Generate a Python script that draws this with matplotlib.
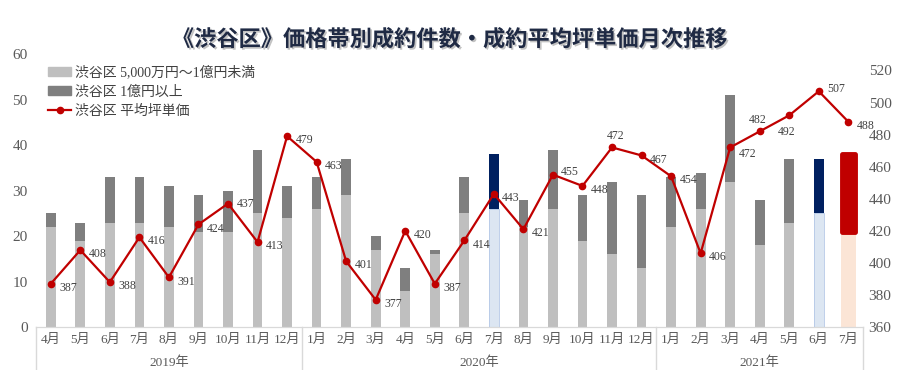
import numpy as np
import matplotlib
matplotlib.use('Agg')
import matplotlib.pyplot as plt
import matplotlib.patheffects as pe
from matplotlib.patches import Patch
from matplotlib.lines import Line2D

plt.rcParams['font.family'] = ['Liberation Serif', 'Noto Sans CJK JP', 'DejaVu Sans']

# データ
years = ['2019年', '2020年', '2021年']
months = [4, 5, 6, 7, 8, 9, 10, 11, 12,
          1, 2, 3, 4, 5, 6, 7, 8, 9, 10, 11, 12,
          1, 2, 3, 4, 5, 6, 7]
year_sizes = [9, 12, 7]
low_band = [22, 19, 23, 23, 22, 21, 21, 25, 24,
            26, 29, 17, 8, 16, 25, 26, 22, 26, 19, 16, 13,
            22, 26, 32, 18, 23, 25, 21]
high_band = [3, 4, 10, 10, 9, 8, 9, 14, 7,
             7, 8, 3, 5, 1, 8, 12, 6, 13, 10, 16, 16,
             11, 8, 19, 10, 14, 12, 17]
avg_price = [387, 408, 388, 416, 391, 424, 437, 413, 479,
             463, 401, 377, 420, 387, 414, 443, 421, 455, 448, 472, 467,
             454, 406, 472, 482, 492, 507, 488]
# 強調する月（2020年7月, 2021年6月）と最新月（2021年7月）
highlight = [15, 26]
latest = 27

x = np.arange(len(months))
low = np.array(low_band)
high = np.array(high_band)

c_low = '#BFBFBF'
c_high = '#7F7F7F'
c_line = '#C00000'
c_text = '#595959'

fig = plt.figure(figsize=(9, 3.7), dpi=100)
ax = fig.add_axes([0.04, 0.116, 0.919, 0.737])
ax2 = ax.twinx()

low_colors = [c_low] * len(x)
high_colors = [c_high] * len(x)
widths = [0.33] * len(x)
for i in highlight:
    low_colors[i] = '#DCE6F2'
    high_colors[i] = '#002060'
    widths[i] = 0.35

normal = [i for i in x if i != latest]
ax.bar(x[normal], low[normal], width=[widths[i] for i in normal],
       color=[low_colors[i] for i in normal], zorder=2)
ax.bar(x[normal], high[normal], bottom=low[normal], width=[widths[i] for i in normal],
       color=[high_colors[i] for i in normal], zorder=2)
for i in highlight:
    ax.bar(x[i], low[i], width=widths[i], color='none', edgecolor='#B4C7E7',
           linewidth=0.6, zorder=3)

# 最新月
ax.bar(x[latest], low[latest], width=0.53, color='#FBE5D6', zorder=2)
ax.bar(x[latest], high[latest], bottom=low[latest], width=0.42, color=c_line,
       edgecolor=c_line, linewidth=3.5, joinstyle='round', zorder=2)

ax.set_ylim(0, 60)
ax.set_yticks(range(0, 61, 10))
ax.set_xlim(-0.5, len(x) - 0.5)

ax2.plot(x, avg_price, color=c_line, lw=1.6, marker='o', markersize=4.5, zorder=5)
ax2.set_ylim(360, 530)
ax2.set_yticks(range(360, 521, 20))

# データラベル
offsets = {k: (6, -3) for k in range(len(x))}
offsets[6] = (6, 0)
offsets[17] = (6, 2)
offsets[19] = (-4, 8)
offsets[23] = (6, -5)
offsets[24] = (-8, 8)
offsets[25] = (-8, -12)
offsets[26] = (6, 2)
for i, v in enumerate(avg_price):
    dx, dy = offsets[i]
    ax2.annotate(str(v), (x[i], v), xytext=(dx, dy), textcoords='offset points',
                 fontsize=8.5, color='#404040', ha='left', va='center', zorder=6)

for a in (ax, ax2):
    for s in ['top', 'left', 'right']:
        a.spines[s].set_visible(False)
    a.spines['bottom'].set_color('#D9D9D9')
    a.tick_params(axis='y', length=0, labelsize=11, labelcolor=c_text)
ax.tick_params(axis='y', pad=6)
ax2.tick_params(axis='y', pad=4)

ax.set_xticks(x)
ax.set_xticklabels([f'{m}月' for m in months], fontsize=9.5, color=c_text)
ax.tick_params(axis='x', length=0, pad=5)

# 年の区切り線とラベル
trans = ax.get_xaxis_transform()
bounds = np.concatenate([[0], np.cumsum(year_sizes)]) - 0.5
for b in bounds:
    ax.plot([b, b], [0, -0.165], transform=trans, color='#D9D9D9', lw=1, clip_on=False)
for k, name in enumerate(years):
    mid = (bounds[k] + bounds[k + 1]) / 2
    ax.text(mid, -0.13, name, transform=trans, ha='center', va='center',
            fontsize=9.5, color=c_text)

handles = [Patch(color=c_low), Patch(color=c_high),
           Line2D([], [], color=c_line, lw=1.6, marker='o', markersize=4.5)]
labels = ['渋谷区 5,000万円～1億円未満', '渋谷区 1億円以上', '渋谷区 平均坪単価']
ax.legend(handles, labels, loc='upper left', bbox_to_anchor=(0.005, 0.99),
          frameon=False, fontsize=10, labelcolor='#404040', handlelength=1.6,
          handleheight=0.6, labelspacing=0.45, handletextpad=0.3, borderaxespad=0.2)

fig.text(0.5, 0.893, '《渋谷区》価格帯別成約件数・成約平均坪単価月次推移',
         ha='center', va='center', fontsize=16, fontweight='bold',
         color='#1F2A44', family=['Noto Sans CJK JP', 'DejaVu Sans'],
         path_effects=[pe.withSimplePatchShadow(offset=(1.2, -1.2),
                                                shadow_rgbFace='#9A9A9A', alpha=0.6)])

fig.savefig('out.png', dpi=100, facecolor='white')
